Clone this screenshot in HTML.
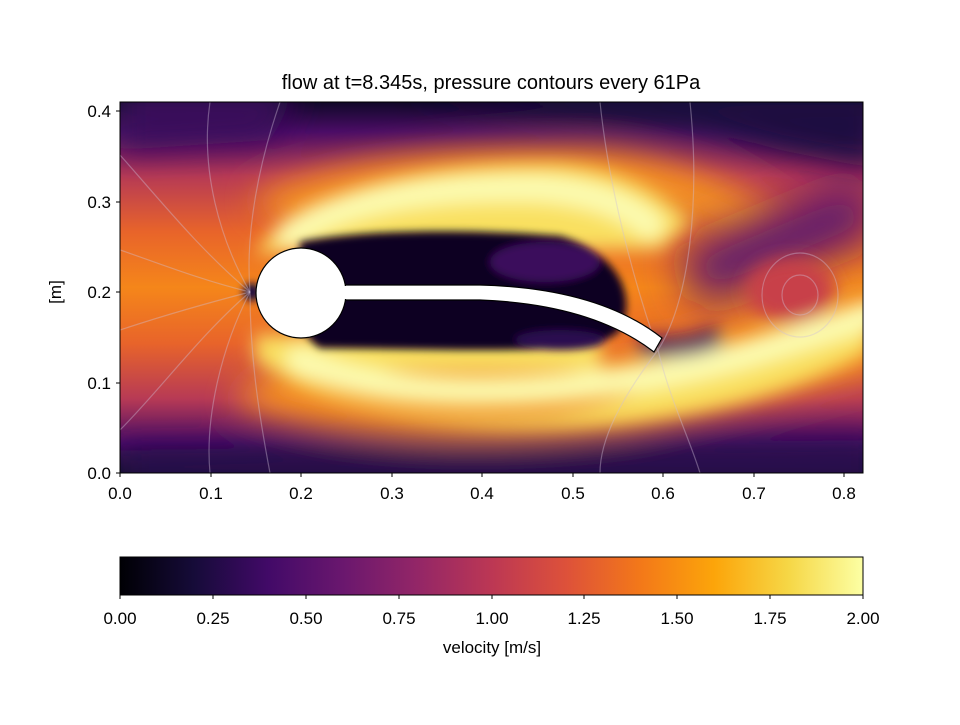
<!DOCTYPE html>
<html><head><meta charset="utf-8"><style>
body{margin:0;background:#fff;}
svg text{font-family:"Liberation Sans","DejaVu Sans",sans-serif;fill:#000;}
</style></head><body>
<svg width="960" height="720" viewBox="0 0 960 720" xmlns="http://www.w3.org/2000/svg">
<defs>
<linearGradient id="inf" x1="0" x2="1" y1="0" y2="0">
<stop offset="0" stop-color="#000004"/>
<stop offset="0.1" stop-color="#160b39"/>
<stop offset="0.2" stop-color="#420a68"/>
<stop offset="0.3" stop-color="#6a176e"/>
<stop offset="0.4" stop-color="#932667"/>
<stop offset="0.5" stop-color="#bc3754"/>
<stop offset="0.6" stop-color="#dd513a"/>
<stop offset="0.7" stop-color="#f37819"/>
<stop offset="0.8" stop-color="#fca50a"/>
<stop offset="0.9" stop-color="#f6d746"/>
<stop offset="1" stop-color="#fcffa4"/>
</linearGradient>
<linearGradient id="base" x1="0" x2="0" y1="0" y2="1">
<stop offset="0" stop-color="#100828"/>
<stop offset="0.08" stop-color="#4a0c66"/>
<stop offset="0.2" stop-color="#b73a55"/>
<stop offset="0.35" stop-color="#e8642a"/>
<stop offset="0.5" stop-color="#f5861a"/>
<stop offset="0.65" stop-color="#e8642a"/>
<stop offset="0.8" stop-color="#b73a55"/>
<stop offset="0.92" stop-color="#4a0c66"/>
<stop offset="1" stop-color="#100828"/>
</linearGradient>
<filter id="b1" filterUnits="userSpaceOnUse" x="0" y="0" width="960" height="720"><feGaussianBlur stdDeviation="16"/></filter>
<filter id="b2" filterUnits="userSpaceOnUse" x="0" y="0" width="960" height="720"><feGaussianBlur stdDeviation="9"/></filter>
<filter id="b4" filterUnits="userSpaceOnUse" x="0" y="0" width="960" height="720"><feGaussianBlur stdDeviation="22"/></filter>
<filter id="b3" filterUnits="userSpaceOnUse" x="0" y="0" width="960" height="720"><feGaussianBlur stdDeviation="4"/></filter>
<clipPath id="ax"><rect x="120" y="102" width="743" height="371"/></clipPath>
</defs>
<text x="491" y="89" font-size="20" text-anchor="middle">flow at t=8.345s, pressure contours every 61Pa</text>
<g clip-path="url(#ax)">
<rect x="120" y="102" width="743" height="371" fill="url(#base)"/>
<g filter="url(#b1)">
<path d="M400 90 L880 90 L880 170 L780 150 L700 128 L560 115 Z" fill="#1a0a40"/>
<path d="M120 90 L300 90 L270 140 L120 150 Z" fill="#3a0b5c"/>
<path d="M120 485 L880 485 L880 440 L700 442 L300 448 L120 450 Z" fill="#2a0a50"/>
<path d="M250 200 C320 160 450 145 600 150 C680 158 740 185 790 220 L740 250 C690 215 620 200 500 205 L300 235 Z" fill="#f49020"/>
<path d="M230 400 C320 440 500 445 640 425 C740 405 800 390 880 370 L880 270 C780 300 700 330 620 350 L300 350 Z" fill="#f49020"/>
</g>
<g filter="url(#b4)">
<path d="M690 280 C760 250 820 225 870 205" stroke="#5a1270" stroke-width="60" fill="none"/>
</g>
<g filter="url(#b2)">
<path d="M255 255 C290 195 420 162 560 165 C620 170 660 190 690 222 L660 250 C620 250 560 250 480 250 L300 250 Z" fill="#f9e060"/>
<path d="M290 235 C340 198 440 185 540 188 C600 193 630 208 650 225" stroke="#fcfbb0" stroke-width="28" fill="none" stroke-linecap="round"/>
<path d="M255 330 C300 405 420 425 550 415 C620 405 650 385 700 370 C770 350 820 330 870 300 L870 350 C800 390 720 410 640 420 C520 435 360 430 255 360 Z" fill="#f9e060"/>
<path d="M255 335 L600 335 L600 370 L270 370 Z" fill="#f9e060"/>
<path d="M300 360 C360 390 450 396 560 388 C630 381 700 368 760 350 C800 338 840 325 870 315" stroke="#fcfbb0" stroke-width="28" fill="none" stroke-linecap="round"/>
<ellipse cx="790" cy="290" rx="45" ry="32" fill="#c8404a"/>
<path d="M640 345 C670 350 700 345 720 335" stroke="#4a0c66" stroke-width="20" fill="none"/>
</g>
<g filter="url(#b3)">
<path d="M300 242 C360 230 460 228 560 236 C610 250 640 290 620 330 C600 350 560 350 460 350 L320 348 C300 335 295 310 300 290 Z" fill="#0a0520"/>
<ellipse cx="545" cy="262" rx="55" ry="20" fill="#3a0b5c"/>
<ellipse cx="560" cy="340" rx="45" ry="10" fill="#2a0a50"/>
<ellipse cx="252" cy="292" rx="9" ry="9" fill="#1a0a40"/>
</g>
<g stroke="#d0c0d8" stroke-opacity="0.4" stroke-width="1.2" fill="none">
<path d="M250 292 C220 240 200 170 210 102"/><path d="M250 292 C200 250 160 200 120 155"/>
<path d="M250 292 C200 280 150 260 120 250"/><path d="M250 292 C200 305 150 320 120 330"/>
<path d="M250 292 C200 335 160 390 120 430"/><path d="M250 292 C220 350 205 420 210 473"/>
<path d="M250 292 C245 230 260 160 280 102"/><path d="M250 292 C250 360 260 420 270 473"/>
<path d="M658 350 C640 300 610 200 600 102"/><path d="M658 350 C670 400 690 440 700 473"/>
<path d="M658 350 C690 300 700 200 690 102"/><path d="M658 350 C620 400 600 440 600 473"/>
<ellipse cx="800" cy="295" rx="38" ry="42"/><ellipse cx="800" cy="295" rx="18" ry="20"/>
</g>
</g>
<path d="M345 285 L480 285 C560 287 620 305 662 338 L654 352 C615 322 560 303 480 300 L345 300 Z" fill="#fff" stroke="#000" stroke-width="1.2"/>
<circle cx="301" cy="293" r="45" fill="#fff" stroke="#000" stroke-width="1.2"/>
<rect x="340" y="286" width="8" height="13" fill="#fff"/>
<rect x="120" y="102" width="743" height="371" fill="none" stroke="#000" stroke-width="1"/>
<g stroke="#000" stroke-width="1">
<line x1="120" y1="473" x2="120" y2="477"/><line x1="211" y1="473" x2="211" y2="477"/>
<line x1="301" y1="473" x2="301" y2="477"/><line x1="392" y1="473" x2="392" y2="477"/>
<line x1="482" y1="473" x2="482" y2="477"/><line x1="573" y1="473" x2="573" y2="477"/>
<line x1="663" y1="473" x2="663" y2="477"/><line x1="754" y1="473" x2="754" y2="477"/>
<line x1="844" y1="473" x2="844" y2="477"/>
<line x1="116" y1="473" x2="120" y2="473"/><line x1="116" y1="383" x2="120" y2="383"/>
<line x1="116" y1="292" x2="120" y2="292"/><line x1="116" y1="202" x2="120" y2="202"/>
<line x1="116" y1="111" x2="120" y2="111"/>
</g>
<g font-size="17" text-anchor="middle">
<text x="120" y="499">0.0</text><text x="211" y="499">0.1</text><text x="301" y="499">0.2</text>
<text x="392" y="499">0.3</text><text x="482" y="499">0.4</text><text x="573" y="499">0.5</text>
<text x="663" y="499">0.6</text><text x="754" y="499">0.7</text><text x="844" y="499">0.8</text>
</g>
<g font-size="17" text-anchor="end">
<text x="111" y="479">0.0</text><text x="111" y="389">0.1</text><text x="111" y="298">0.2</text>
<text x="111" y="208">0.3</text><text x="111" y="117">0.4</text>
</g>
<text x="61" y="292" font-size="17" text-anchor="middle" transform="rotate(-90 61 292)">[m]</text>
<rect x="120" y="557" width="743" height="38" fill="url(#inf)" stroke="#000" stroke-width="1"/>
<g stroke="#000"><line x1="120" y1="595" x2="120" y2="599"/><line x1="213" y1="595" x2="213" y2="599"/>
<line x1="306" y1="595" x2="306" y2="599"/><line x1="399" y1="595" x2="399" y2="599"/>
<line x1="492" y1="595" x2="492" y2="599"/><line x1="584" y1="595" x2="584" y2="599"/>
<line x1="677" y1="595" x2="677" y2="599"/><line x1="770" y1="595" x2="770" y2="599"/>
<line x1="863" y1="595" x2="863" y2="599"/></g>
<g font-size="17" text-anchor="middle">
<text x="120" y="624">0.00</text><text x="213" y="624">0.25</text><text x="306" y="624">0.50</text>
<text x="399" y="624">0.75</text><text x="492" y="624">1.00</text><text x="584" y="624">1.25</text>
<text x="677" y="624">1.50</text><text x="770" y="624">1.75</text><text x="863" y="624">2.00</text>
<text x="492" y="653">velocity [m/s]</text>
</g>
</svg>
</body></html>
